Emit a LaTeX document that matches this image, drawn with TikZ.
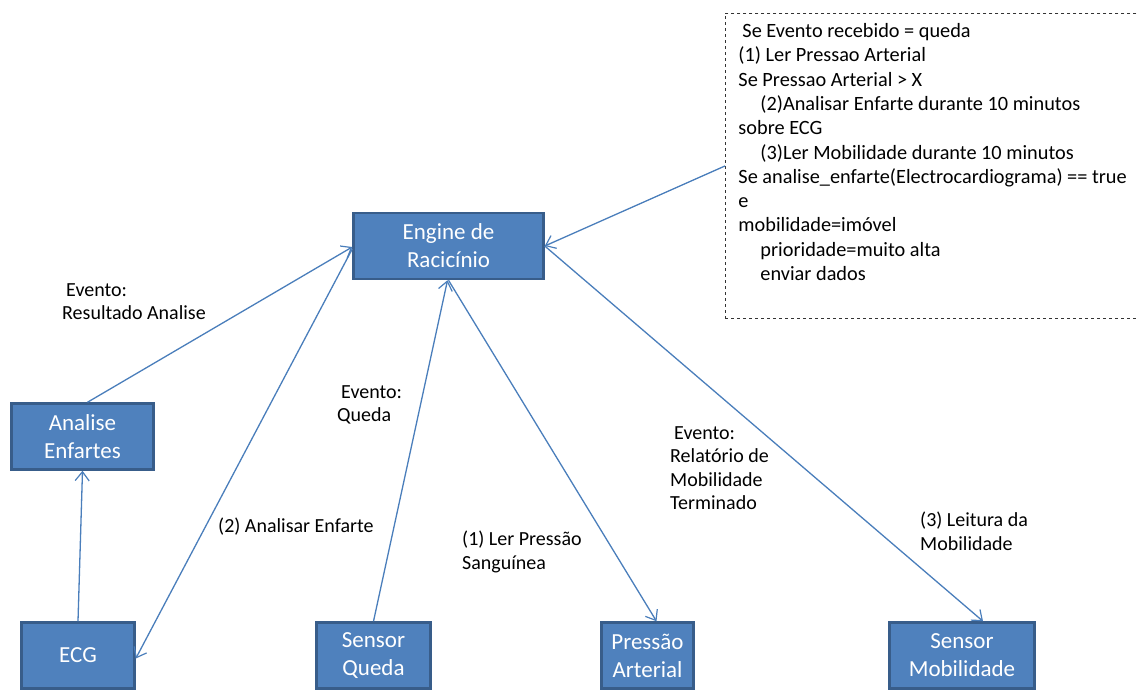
\documentclass[tikz,border=0pt]{standalone}
\usepackage{fontspec}
\setmainfont{Carlito}
\usepackage{tikz}
\usetikzlibrary{shapes.geometric, arrows, arrows.meta, positioning, shapes}
\definecolor{boxblue}{HTML}{4F81BD}
\definecolor{boxedge}{HTML}{385D8A}
\definecolor{linkblue}{HTML}{4A7EBB}
\tikzstyle{block} = [rectangle, draw=boxedge, line width=2.5pt, fill=boxblue, text=white, align=center, minimum height=66pt, inner sep=0pt, font=\fontsize{23}{28}\selectfont]
\tikzstyle{line} = [draw=linkblue, line width=1.3pt, -{Straight Barb[length=9pt,width=14pt,line width=1.2pt]}]
\tikzstyle{event} = [align=left, anchor=north west, inner sep=0pt, font=\fontsize{20}{23.5}\selectfont]
\tikzstyle{rulebox} = [draw=black!80, dashed, line width=0.9pt, anchor=north west, inner xsep=13pt, inner ysep=6pt, font=\fontsize{20.3}{24.3}\selectfont]

\begin{document}
\begin{tikzpicture}[x=1pt, y=-1pt]
		\useasboundingbox (0,0) rectangle (1139,689);
		\node (engine) [block, minimum width=190pt] at (448.5,246) {Engine de\\Racicínio};
		\node (analise) [block, minimum width=142pt] at (82.5,436.5) {Analise\\Enfartes};
		\node (ecg) [block, minimum width=113pt] at (78,655.5) {ECG};
		\node (queda) [block, minimum width=114pt] at (373.5,655.5) {Sensor\\Queda};
		\node (pressao) [block, minimum width=92pt] at (647.5,655.5) {Pressão\\Arterial};
		\node (mobilidade) [block, minimum width=145pt] at (962,655.5) {Sensor\\Mobilidade};
		\node (rules) [rulebox] at (725,13) {\parbox[t][293pt][t]{420pt}{\raggedright
			\vspace*{4pt}\hspace*{4pt}Se Evento recebido = queda\\
			(1) Ler Pressao Arterial\\
			Se Pressao Arterial > X\\
			\hspace*{22pt}(2)Analisar Enfarte durante 10 minutos\\
			sobre ECG\\
			\hspace*{22pt}(3)Ler Mobilidade durante 10 minutos\\
			Se analise\_enfarte(Electrocardiograma) == true\\
			e\\
			mobilidade=imóvel\\
			\hspace*{22pt}prioridade=muito alta\\
			\hspace*{22pt}enviar dados}};

		% Event labels
		\node (lresult) [event] at (62,283) {\hspace*{4pt}Evento:\\Resultado Analise};
		\node (lqueda) [event] at (337,385) {\hspace*{4pt}Evento:\\Queda};
		\node (lenfarte) [event] at (218,518) {(2) Analisar Enfarte};
		\node (lpressao) [event] at (462,531) {(1) Ler Pressão\\Sanguínea};
		\node (lrelat) [event] at (670,426) {\hspace*{4pt}Evento:\\Relatório de\\Mobilidade\\Terminado};
		\node (lleitura) [event] at (920,512) {(3) Leitura da\\Mobilidade};

		% Draw edges
		\path [line] ([xshift=5pt]analise.north) -- ([yshift=-1pt]engine.west);
		\path [line] (ecg.north) -- (analise.south);
		\path [line] ([yshift=-3pt]engine.west) -- ([yshift=-3pt]ecg.east);
		\path [line] (queda.north) -- ([xshift=-1pt]engine.south);
		\path [line] (engine.south) -- ([xshift=9pt]pressao.north);
		\path [line] (engine.east) -- ([xshift=21pt]mobilidade.north);
		\path [line] (rules.west) -- (engine.east);
\end{tikzpicture}
\end{document}
